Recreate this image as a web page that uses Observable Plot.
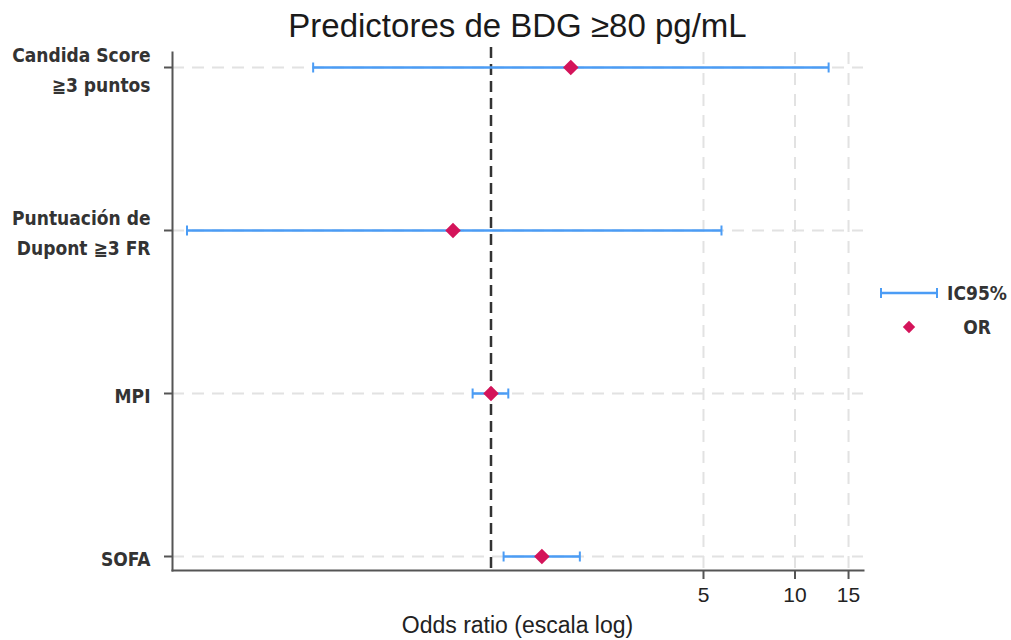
<!DOCTYPE html>
<html>
<head>
<meta charset="utf-8">
<script src="https://cdn.jsdelivr.net/npm/d3@7"></script>
<script src="https://cdn.jsdelivr.net/npm/@observablehq/plot@0.6"></script>
<style>
  html, body { margin: 0; padding: 0; background: #fff; }
  #wrap { position: relative; width: 1011px; height: 640px; overflow: hidden; }
  #title { position: absolute; left: 172px; width: 691px; top: 7px; text-align: center;
           font-family: "Liberation Sans", Arial, sans-serif; font-size: 33px; color: #1a1a1a; }
  #xlabel { position: absolute; left: 172px; width: 691px; top: 612px; text-align: center;
           font-family: "Liberation Sans", Arial, sans-serif; font-size: 23px; color: #222; }
  #legend { position: absolute; left: 870px; top: 270px; }
</style>
</head>
<body>
<div id="wrap">
  <div id="chart"></div>
  <div id="title"></div>
  <div id="xlabel"></div>
  <div id="legend"></div>
</div>
<script>
// ---- data ----
const categories = ["Candida Score\n≧3 puntos", "Puntuación de\nDupont ≧3 FR", "MPI", "SOFA"];
const oddsRatio = [1.83, 0.75, 1.00, 1.47];
const ciLow = [0.26, 0.10, 0.87, 1.10];
const ciHigh = [12.9, 5.73, 1.14, 1.96];
const xTicks = [5, 10, 15];
const refValue = 1;
const xDomain = [0.0896, 16.8];
const titleText = "Predictores de BDG ≥80 pg/mL";
const xLabelText = "Odds ratio (escala log)";
const legendLabels = ["IC95%", "OR"];

const blue = "#4b9cf5";
const crimson = "#d4145a";
const condFont = '"Liberation Sans Narrow", "DejaVu Sans Condensed", Roboto, sans-serif';

const data = categories.map((c, i) => ({label: c, or: oddsRatio[i], lo: ciLow[i], hi: ciHigh[i]}));

// vertical cap symbol for error-bar ends
const capSymbol = {
  draw(context) {
    context.moveTo(0, -5);
    context.lineTo(0, 5);
  }
};

const chart = Plot.plot({
  width: 1011,
  height: 640,
  marginTop: 52,
  marginBottom: 70,
  marginLeft: 172,
  marginRight: 148,
  style: {fontFamily: '"Liberation Sans", Arial, sans-serif', color: "#333", background: "white"},
  x: {type: "log", domain: xDomain},
  y: {type: "point", domain: categories, padding: 0.08},
  marks: [
    Plot.gridX(xTicks, {stroke: "#e2e2e2", strokeOpacity: 1, strokeWidth: 2, strokeDasharray: "12,9"}),
    Plot.gridY(categories, {stroke: "#e2e2e2", strokeOpacity: 1, strokeWidth: 2, strokeDasharray: "12,8"}),
    Plot.ruleX([refValue], {stroke: "#333", strokeWidth: 2.5, strokeDasharray: "11,6", insetTop: -5}),
    Plot.ruleY(data, {y: "label", x1: "lo", x2: "hi", stroke: blue, strokeWidth: 2.5}),
    Plot.dot(data, {x: "lo", y: "label", symbol: capSymbol, stroke: blue, strokeWidth: 2, fill: "none"}),
    Plot.dot(data, {x: "hi", y: "label", symbol: capSymbol, stroke: blue, strokeWidth: 2, fill: "none"}),
    Plot.dot(data, {x: "or", y: "label", symbol: "diamond2", r: 7, fill: crimson, stroke: "none"}),
    Plot.frame({anchor: "left", stroke: "#555", strokeWidth: 2}),
    Plot.frame({anchor: "bottom", stroke: "#555", strokeWidth: 2}),
    Plot.axisX({ticks: xTicks, tickFormat: d => String(d), tickSize: 9, tickPadding: 8, fontSize: 21, label: null, stroke: "#555", strokeWidth: 2, fill: "#222"}),
    Plot.axisY({tickSize: 8, tickPadding: 14, fontSize: 19, fontWeight: "bold", fontFamily: condFont, lineHeight: 1.6, label: null, stroke: "#555", strokeWidth: 2, fill: "#333", textAnchor: "end"})
  ]
});
document.getElementById("chart").appendChild(chart);
document.getElementById("title").textContent = titleText;
document.getElementById("xlabel").textContent = xLabelText;

// legend
const lg = d3.select("#legend").append("svg").attr("width", 141).attr("height", 80);
const y1 = 23, y2 = 57;
lg.append("line").attr("x1", 11).attr("x2", 67).attr("y1", y1).attr("y2", y1).attr("stroke", blue).attr("stroke-width", 2.5);
lg.append("line").attr("x1", 11).attr("x2", 11).attr("y1", y1 - 5).attr("y2", y1 + 5).attr("stroke", blue).attr("stroke-width", 2);
lg.append("line").attr("x1", 67).attr("x2", 67).attr("y1", y1 - 5).attr("y2", y1 + 5).attr("stroke", blue).attr("stroke-width", 2);
lg.append("path").attr("d", d3.symbol(d3.symbolDiamond2, 98)()).attr("transform", `translate(39,${y2})`).attr("fill", crimson);
legendLabels.forEach((t, i) => {
  lg.append("text").attr("x", 107).attr("y", i ? y2 : y1).attr("dy", "0.35em")
    .attr("text-anchor", "middle").attr("font-size", 19).attr("font-weight", "bold")
    .attr("font-family", condFont).attr("fill", "#333").text(t);
});
</script>
</body>
</html>
